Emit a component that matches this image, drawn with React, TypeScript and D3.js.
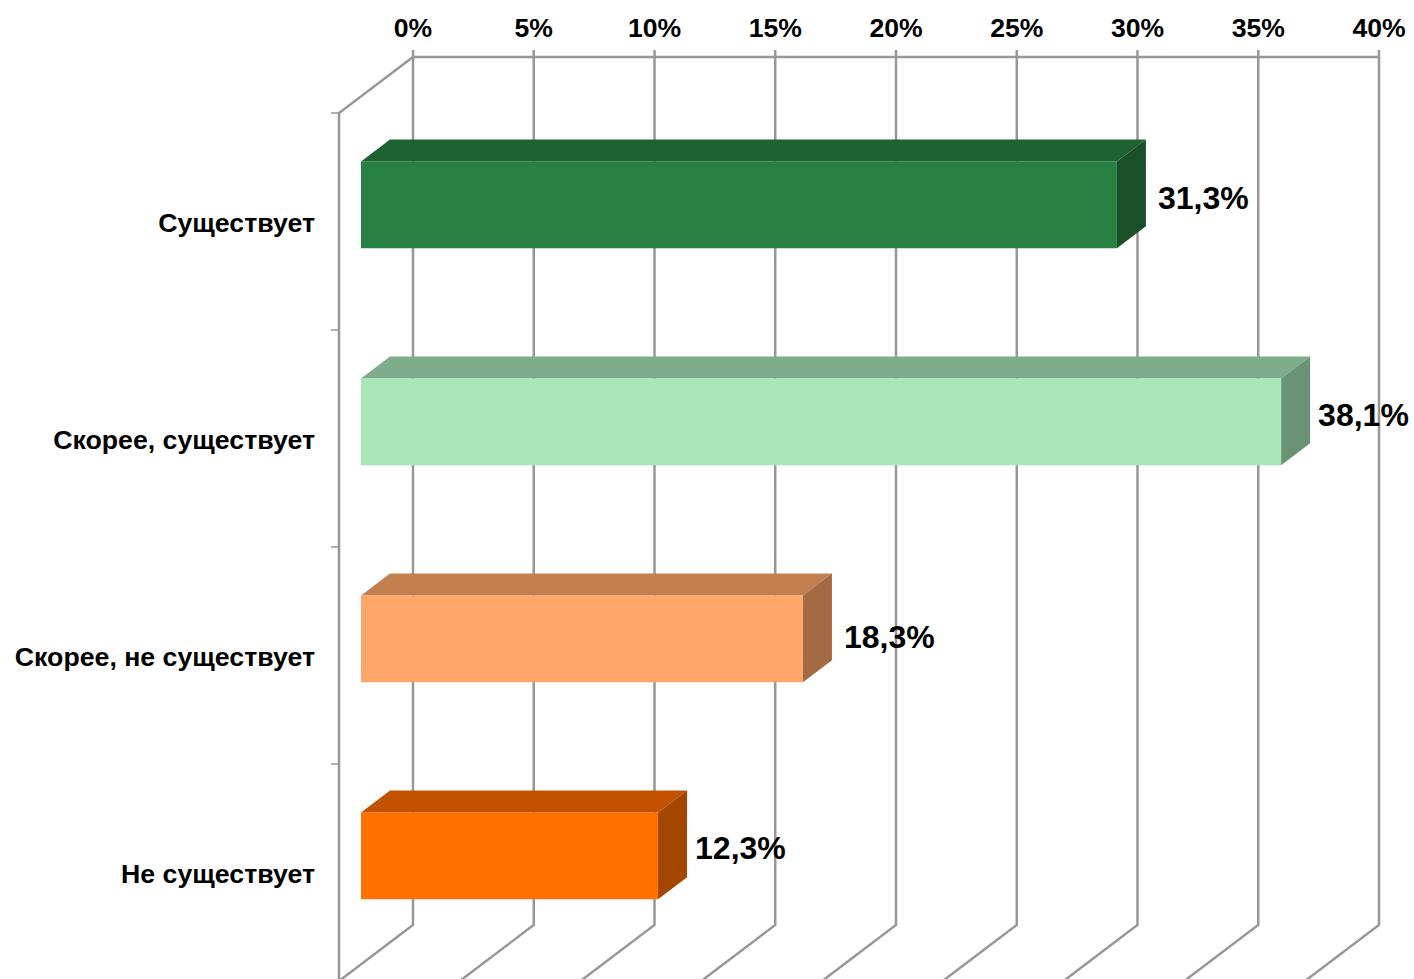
import React from "react";
import * as d3 from "d3";

const categories = ["Существует", "Скорее, существует", "Скорее, не существует", "Не существует"];
const seriesValues = [31.3, 38.1, 18.3, 12.3];
const valueLabels = ["31,3%", "38,1%", "18,3%", "12,3%"];
const axisTicks = [0, 5, 10, 15, 20, 25, 30, 35, 40];
const frontColors = ["#277F42", "#A8E6B6", "#FFA76B", "#FF7000"];
const topColors = ["#1F6231", "#7FAD8B", "#C47F50", "#C25200"];
const sideColors = ["#1A5027", "#6A9274", "#A36A44", "#A34700"];

// label placement tweaks (layout only)
const labelDx = [12, 8, 12, 8];
const labelBaseline = [209, 426, 648, 859];

const W = 1414, H = 979;
const FONT = "'Liberation Sans', Arial, sans-serif";
const GRID = "#979797";
const WALL_DX = -74, WALL_DY = 56;
const FRONT = 52 / 74, BACK = 23 / 74;

const x = d3.scaleLinear().domain([0, 40]).range([413, 1379]);
const y = d3.scaleBand<string>().domain(categories).range([57, 925]).paddingInner(0.6).paddingOuter(0.3);
const line = d3.line();

export default function App() {
  const px = (v: number, d: number) => x(v) + WALL_DX * d;
  const py = (yy: number, d: number) => yy + WALL_DY * d;
  const [yTop, yBot] = y.range();
  const leftX = px(0, 1);
  const catSteps = d3.range(categories.length + 1).map((i) => yTop + i * y.step());
  return (
    <svg width={W} height={H} style={{ position: "absolute", left: 0, top: 0, display: "block", background: "#fff" }} fontFamily={FONT}>
      {/* walls */}
      <g fill="none" stroke={GRID} strokeWidth={2.5}>
        <path d={line([[x(0), yTop], [x(40), yTop]])!} />
        <path d={line([[x(0), yTop], [leftX, py(yTop, 1)], [leftX, py(yBot, 1)]])!} />
        {axisTicks.map((t) => (
          <path key={t} d={line([[x(t), yTop - 7], [x(t), yBot], [px(t, 1), py(yBot, 1)]])!} />
        ))}
        {catSteps.map((s, i) => (
          <path key={i} strokeWidth={1.5} d={line([[leftX - 8, py(s, 1)], [leftX, py(s, 1)]])!} />
        ))}
      </g>
      {/* tick labels */}
      {axisTicks.map((t) => (
        <text key={t} x={x(t)} y={36.5} textAnchor="middle" fontSize={26.6} fontWeight={700} fill="#000">{t}%</text>
      ))}
      {/* bars */}
      {categories.map((c, i) => {
        const v = seriesValues[i];
        const t = y(c)!;
        const b = t + y.bandwidth();
        const x0f = px(0, FRONT), x1f = px(v, FRONT), x0b = px(0, BACK), x1b = px(v, BACK);
        const tf = py(t, FRONT), bf = py(b, FRONT), tb = py(t, BACK), bb = py(b, BACK);
        return (
          <g key={c}>
            <path fill={topColors[i]} d={line([[x0f, tf], [x0b, tb], [x1b, tb], [x1f, tf]])! + "Z"} />
            <path fill={sideColors[i]} d={line([[x1f, tf], [x1b, tb], [x1b, bb], [x1f, bf]])! + "Z"} />
            <rect fill={frontColors[i]} x={x0f} y={tf} width={x1f - x0f} height={bf - tf} />
          </g>
        );
      })}
      {/* category labels */}
      {categories.map((c) => (
        <text key={c} x={315} y={py(y(c)! + y.bandwidth() / 2, 1) + 10} textAnchor="end" fontSize={26.7} fontWeight={700} fill="#000">{c}</text>
      ))}
      {/* value labels */}
      {categories.map((c, i) => (
        <text key={c} x={px(seriesValues[i], BACK) + labelDx[i]} y={labelBaseline[i]} fontSize={32} fontWeight={700} fill="#000">{valueLabels[i]}</text>
      ))}
    </svg>
  );
}
